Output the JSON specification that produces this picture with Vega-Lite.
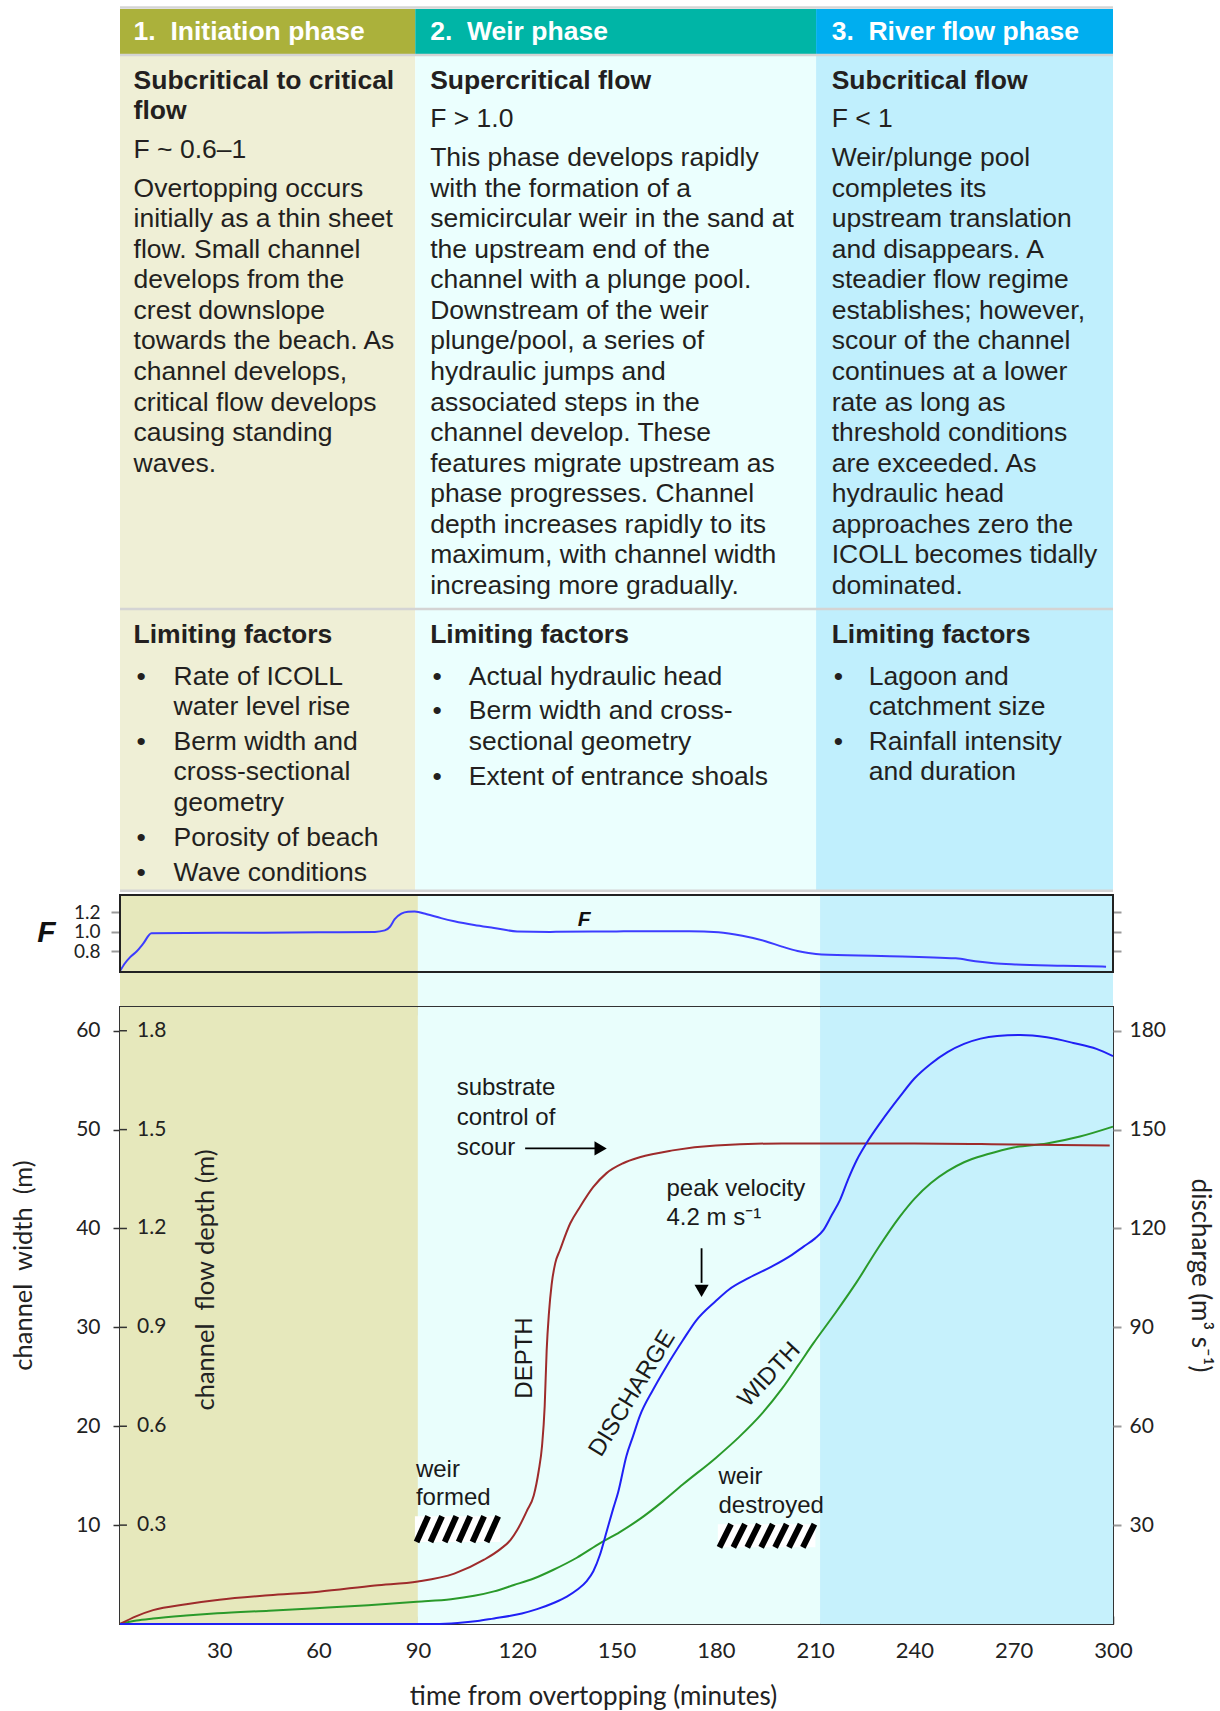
{
  "$schema": "https://vega.github.io/schema/vega-lite/v6.json",
  "padding": {"left": 10, "top": 6, "right": 5, "bottom": 5},
  "background": "white",
  "bounds": "flush",
  "spacing": 0,
  "config": {
    "view": {"stroke": null},
    "font": "Liberation Sans",
    "axis": {"grid": false, "domain": false, "zindex": 2, "labelColor": "#222222", "titleColor": "#222222", "labelFont": "Lato", "titleFont": "Lato", "titleFontWeight": "normal", "labelFlush": false, "labelOverlap": false}
  },
  "resolve": {"scale": {"x": "independent", "y": "independent", "color": "independent"}},
  "datasets": {
    "cells": [
      {"cell": "h1", "x0": 0, "x1": 89.2, "y0": 0, "y1": 1.506},
      {"cell": "h2", "x0": 89.2, "x1": 210.3, "y0": 0, "y1": 1.506},
      {"cell": "h3", "x0": 210.3, "x1": 300, "y0": 0, "y1": 1.506},
      {"cell": "b1", "x0": 0, "x1": 89.2, "y0": 1.506, "y1": 28.86},
      {"cell": "b2", "x0": 89.2, "x1": 210.3, "y0": 1.506, "y1": 28.86},
      {"cell": "b3", "x0": 210.3, "x1": 300, "y0": 1.506, "y1": 28.86}
    ],
    "seps": [{"y": -0.05}, {"y": 1.506}, {"y": 19.64}, {"y": 28.86}],
    "bands": [
      {"phase": "p1", "t0": 0, "t1": 90},
      {"phase": "p2", "t0": 90, "t1": 211.5},
      {"phase": "p3", "t0": 211.5, "t1": 300}
    ],
    "tabletext": [
      {"kind": "head", "x": 4.1, "line": 0.753, "text": "1.\u00a0 Initiation phase"},
      {"kind": "head", "x": 93.7, "line": 0.753, "text": "2.\u00a0 Weir phase"},
      {"kind": "head", "x": 215.0, "line": 0.753, "text": "3.\u00a0 River flow phase"},
      {"kind": "bold", "x": 4.1, "line": 2.35, "text": "Subcritical to critical"},
      {"kind": "bold", "x": 4.1, "line": 3.35, "text": "flow"},
      {"kind": "bold", "x": 93.7, "line": 2.35, "text": "Supercritical flow"},
      {"kind": "bold", "x": 215.0, "line": 2.35, "text": "Subcritical flow"},
      {"kind": "bold", "x": 4.1, "line": 20.49, "text": "Limiting factors"},
      {"kind": "bold", "x": 93.7, "line": 20.49, "text": "Limiting factors"},
      {"kind": "bold", "x": 215.0, "line": 20.49, "text": "Limiting factors"},
      {"kind": "body", "x": 4.1, "line": 4.63, "text": "F ~ 0.6–1"},
      {"kind": "body", "x": 4.1, "line": 5.88, "text": "Overtopping occurs"},
      {"kind": "body", "x": 4.1, "line": 6.88, "text": "initially as a thin sheet"},
      {"kind": "body", "x": 4.1, "line": 7.88, "text": "flow. Small channel"},
      {"kind": "body", "x": 4.1, "line": 8.88, "text": "develops from the"},
      {"kind": "body", "x": 4.1, "line": 9.88, "text": "crest downslope"},
      {"kind": "body", "x": 4.1, "line": 10.88, "text": "towards the beach. As"},
      {"kind": "body", "x": 4.1, "line": 11.88, "text": "channel develops,"},
      {"kind": "body", "x": 4.1, "line": 12.88, "text": "critical flow develops"},
      {"kind": "body", "x": 4.1, "line": 13.88, "text": "causing standing"},
      {"kind": "body", "x": 4.1, "line": 14.88, "text": "waves."},
      {"kind": "body", "x": 93.7, "line": 3.6, "text": "F > 1.0"},
      {"kind": "body", "x": 93.7, "line": 4.88, "text": "This phase develops rapidly"},
      {"kind": "body", "x": 93.7, "line": 5.88, "text": "with the formation of a"},
      {"kind": "body", "x": 93.7, "line": 6.88, "text": "semicircular weir in the sand at"},
      {"kind": "body", "x": 93.7, "line": 7.88, "text": "the upstream end of the"},
      {"kind": "body", "x": 93.7, "line": 8.88, "text": "channel with a plunge pool."},
      {"kind": "body", "x": 93.7, "line": 9.88, "text": "Downstream of the weir"},
      {"kind": "body", "x": 93.7, "line": 10.88, "text": "plunge/pool, a series of"},
      {"kind": "body", "x": 93.7, "line": 11.88, "text": "hydraulic jumps and"},
      {"kind": "body", "x": 93.7, "line": 12.88, "text": "associated steps in the"},
      {"kind": "body", "x": 93.7, "line": 13.88, "text": "channel develop. These"},
      {"kind": "body", "x": 93.7, "line": 14.88, "text": "features migrate upstream as"},
      {"kind": "body", "x": 93.7, "line": 15.88, "text": "phase progresses. Channel"},
      {"kind": "body", "x": 93.7, "line": 16.88, "text": "depth increases rapidly to its"},
      {"kind": "body", "x": 93.7, "line": 17.88, "text": "maximum, with channel width"},
      {"kind": "body", "x": 93.7, "line": 18.88, "text": "increasing more gradually."},
      {"kind": "body", "x": 215.0, "line": 3.6, "text": "F < 1"},
      {"kind": "body", "x": 215.0, "line": 4.88, "text": "Weir/plunge pool"},
      {"kind": "body", "x": 215.0, "line": 5.88, "text": "completes its"},
      {"kind": "body", "x": 215.0, "line": 6.88, "text": "upstream translation"},
      {"kind": "body", "x": 215.0, "line": 7.88, "text": "and disappears. A"},
      {"kind": "body", "x": 215.0, "line": 8.88, "text": "steadier flow regime"},
      {"kind": "body", "x": 215.0, "line": 9.88, "text": "establishes; however,"},
      {"kind": "body", "x": 215.0, "line": 10.88, "text": "scour of the channel"},
      {"kind": "body", "x": 215.0, "line": 11.88, "text": "continues at a lower"},
      {"kind": "body", "x": 215.0, "line": 12.88, "text": "rate as long as"},
      {"kind": "body", "x": 215.0, "line": 13.88, "text": "threshold conditions"},
      {"kind": "body", "x": 215.0, "line": 14.88, "text": "are exceeded. As"},
      {"kind": "body", "x": 215.0, "line": 15.88, "text": "hydraulic head"},
      {"kind": "body", "x": 215.0, "line": 16.88, "text": "approaches zero the"},
      {"kind": "body", "x": 215.0, "line": 17.88, "text": "ICOLL becomes tidally"},
      {"kind": "body", "x": 215.0, "line": 18.88, "text": "dominated."},
      {"kind": "body", "x": 5.0, "line": 21.85, "text": "•"},
      {"kind": "body", "x": 5.0, "line": 23.99, "text": "•"},
      {"kind": "body", "x": 5.0, "line": 27.14, "text": "•"},
      {"kind": "body", "x": 5.0, "line": 28.28, "text": "•"},
      {"kind": "body", "x": 16.2, "line": 21.85, "text": "Rate of ICOLL"},
      {"kind": "body", "x": 16.2, "line": 22.85, "text": "water level rise"},
      {"kind": "body", "x": 16.2, "line": 23.99, "text": "Berm width and"},
      {"kind": "body", "x": 16.2, "line": 24.99, "text": "cross-sectional"},
      {"kind": "body", "x": 16.2, "line": 25.99, "text": "geometry"},
      {"kind": "body", "x": 16.2, "line": 27.14, "text": "Porosity of beach"},
      {"kind": "body", "x": 16.2, "line": 28.28, "text": "Wave conditions"},
      {"kind": "body", "x": 94.4, "line": 21.85, "text": "•"},
      {"kind": "body", "x": 94.4, "line": 22.99, "text": "•"},
      {"kind": "body", "x": 94.4, "line": 25.14, "text": "•"},
      {"kind": "body", "x": 105.4, "line": 21.85, "text": "Actual hydraulic head"},
      {"kind": "body", "x": 105.4, "line": 22.99, "text": "Berm width and cross-"},
      {"kind": "body", "x": 105.4, "line": 23.99, "text": "sectional geometry"},
      {"kind": "body", "x": 105.4, "line": 25.14, "text": "Extent of entrance shoals"},
      {"kind": "body", "x": 215.6, "line": 21.85, "text": "•"},
      {"kind": "body", "x": 215.6, "line": 23.99, "text": "•"},
      {"kind": "body", "x": 226.2, "line": 21.85, "text": "Lagoon and"},
      {"kind": "body", "x": 226.2, "line": 22.85, "text": "catchment size"},
      {"kind": "body", "x": 226.2, "line": 23.99, "text": "Rainfall intensity"},
      {"kind": "body", "x": 226.2, "line": 24.99, "text": "and duration"}
    ],
    "fvals": [
      {"t": 0, "f": 0.6}, {"t": 1.5, "f": 0.68}, {"t": 3, "f": 0.74}, {"t": 5, "f": 0.8}, {"t": 7, "f": 0.88},
      {"t": 9.5, "f": 0.985}, {"t": 30, "f": 0.99}, {"t": 60, "f": 0.995}, {"t": 77, "f": 1.0}, {"t": 80, "f": 1.015},
      {"t": 81.5, "f": 1.05}, {"t": 83, "f": 1.13}, {"t": 85, "f": 1.185}, {"t": 87, "f": 1.205}, {"t": 89, "f": 1.208},
      {"t": 92.7, "f": 1.18}, {"t": 97, "f": 1.14}, {"t": 101, "f": 1.108}, {"t": 107, "f": 1.07}, {"t": 113, "f": 1.04},
      {"t": 120, "f": 1.005}, {"t": 130, "f": 1.0}, {"t": 150, "f": 1.005}, {"t": 165, "f": 1.007}, {"t": 172, "f": 1.007},
      {"t": 180.8, "f": 0.996}, {"t": 188, "f": 0.96}, {"t": 195, "f": 0.905}, {"t": 200, "f": 0.85}, {"t": 204.7, "f": 0.805},
      {"t": 208, "f": 0.785}, {"t": 212, "f": 0.77}, {"t": 230, "f": 0.755}, {"t": 252.5, "f": 0.73}, {"t": 258.4, "f": 0.7},
      {"t": 264, "f": 0.68}, {"t": 270.4, "f": 0.668}, {"t": 285, "f": 0.655}, {"t": 297.9, "f": 0.645}
    ],
    "depth": [
      {"t": 0, "d": 0}, {"t": 5, "d": 0.024}, {"t": 10, "d": 0.042}, {"t": 20, "d": 0.06}, {"t": 30, "d": 0.0735},
      {"t": 45, "d": 0.087}, {"t": 60, "d": 0.098}, {"t": 77, "d": 0.117}, {"t": 90, "d": 0.129}, {"t": 101, "d": 0.153},
      {"t": 110, "d": 0.195}, {"t": 115, "d": 0.228}, {"t": 118, "d": 0.255}, {"t": 120, "d": 0.285}, {"t": 123, "d": 0.345},
      {"t": 125, "d": 0.39}, {"t": 126.5, "d": 0.465}, {"t": 127.5, "d": 0.54}, {"t": 128.3, "d": 0.66}, {"t": 128.9, "d": 0.83},
      {"t": 129.6, "d": 0.945}, {"t": 130.4, "d": 1.03}, {"t": 131.5, "d": 1.095}, {"t": 132.9, "d": 1.134}, {"t": 136, "d": 1.215},
      {"t": 139, "d": 1.266}, {"t": 143, "d": 1.326}, {"t": 147, "d": 1.368}, {"t": 152, "d": 1.398}, {"t": 157, "d": 1.416},
      {"t": 167, "d": 1.437}, {"t": 180, "d": 1.452}, {"t": 200, "d": 1.458}, {"t": 240, "d": 1.458}, {"t": 270, "d": 1.455},
      {"t": 299, "d": 1.452}
    ],
    "depthticks": [{"d": 0.3}, {"d": 0.6}, {"d": 0.9}, {"d": 1.2}, {"d": 1.5}, {"d": 1.8}],
    "discharge": [
      {"t": 0, "q": 0}, {"t": 60, "q": 0}, {"t": 95, "q": 0}, {"t": 102, "q": 0.3}, {"t": 108, "q": 0.9},
      {"t": 113, "q": 1.7}, {"t": 118, "q": 2.5}, {"t": 121.4, "q": 3.2}, {"t": 126, "q": 4.5}, {"t": 130.8, "q": 6.3},
      {"t": 135, "q": 8.3}, {"t": 138, "q": 10.3}, {"t": 141, "q": 13}, {"t": 143, "q": 16}, {"t": 145, "q": 21},
      {"t": 147, "q": 28}, {"t": 149, "q": 35}, {"t": 150.5, "q": 40}, {"t": 153, "q": 51}, {"t": 155, "q": 57},
      {"t": 157, "q": 63}, {"t": 161, "q": 71}, {"t": 165, "q": 78}, {"t": 170, "q": 86}, {"t": 174, "q": 92},
      {"t": 180, "q": 98}, {"t": 184, "q": 101.5}, {"t": 190, "q": 105}, {"t": 197, "q": 108.5}, {"t": 203, "q": 112},
      {"t": 206.5, "q": 114.5}, {"t": 210, "q": 117}, {"t": 212.5, "q": 119.5}, {"t": 215, "q": 124}, {"t": 217.5, "q": 128.6},
      {"t": 220, "q": 135}, {"t": 222.6, "q": 140.8}, {"t": 225.6, "q": 146}, {"t": 230, "q": 152.5}, {"t": 235.6, "q": 160},
      {"t": 240, "q": 165.5}, {"t": 245, "q": 170}, {"t": 250, "q": 173.5}, {"t": 255, "q": 176}, {"t": 260, "q": 177.6},
      {"t": 265, "q": 178.4}, {"t": 272, "q": 178.7}, {"t": 280, "q": 178}, {"t": 288, "q": 176.3}, {"t": 295, "q": 174.5},
      {"t": 300, "q": 172.3}
    ],
    "width": [
      {"t": 0, "w": 0}, {"t": 5, "w": 0.35}, {"t": 10, "w": 0.55}, {"t": 20, "w": 0.85}, {"t": 29.4, "w": 1.08},
      {"t": 45, "w": 1.35}, {"t": 59.2, "w": 1.6}, {"t": 75, "w": 1.9}, {"t": 89.7, "w": 2.25}, {"t": 100, "w": 2.5},
      {"t": 107, "w": 2.85}, {"t": 113, "w": 3.3}, {"t": 119, "w": 3.94}, {"t": 125, "w": 4.6}, {"t": 130.8, "w": 5.46},
      {"t": 138, "w": 6.7}, {"t": 145.2, "w": 8.2}, {"t": 151, "w": 9.3}, {"t": 157, "w": 10.6}, {"t": 164, "w": 12.4},
      {"t": 170, "w": 14.1}, {"t": 180, "w": 16.8}, {"t": 187, "w": 18.9}, {"t": 194, "w": 21.3}, {"t": 200, "w": 23.8},
      {"t": 205, "w": 26.2}, {"t": 209.5, "w": 28.4}, {"t": 216, "w": 31.4}, {"t": 222.6, "w": 34.6}, {"t": 229, "w": 38},
      {"t": 235.6, "w": 41.2}, {"t": 240, "w": 43.0}, {"t": 245, "w": 44.6}, {"t": 250, "w": 45.8}, {"t": 255, "w": 46.7},
      {"t": 262, "w": 47.5}, {"t": 270, "w": 48.2}, {"t": 280, "w": 48.6}, {"t": 290, "w": 49.3}, {"t": 300, "w": 50.3}
    ],
    "hatchbox": [
      {"t0": 89.1, "t1": 114.8, "w0": 8.3, "w1": 10.9},
      {"t0": 180.6, "t1": 210.1, "w0": 7.75, "w1": 10.1}
    ],
    "stripes": [
      {"t0": 89.6, "t1": 93.1, "w0": 8.3, "w1": 10.9},
      {"t0": 93.8, "t1": 97.3, "w0": 8.3, "w1": 10.9},
      {"t0": 98.1, "t1": 101.6, "w0": 8.3, "w1": 10.9},
      {"t0": 102.3, "t1": 105.8, "w0": 8.3, "w1": 10.9},
      {"t0": 106.5, "t1": 110.0, "w0": 8.3, "w1": 10.9},
      {"t0": 110.75, "t1": 114.25, "w0": 8.3, "w1": 10.9},
      {"t0": 181.1, "t1": 184.6, "w0": 7.75, "w1": 10.1},
      {"t0": 185.3, "t1": 188.8, "w0": 7.75, "w1": 10.1},
      {"t0": 189.5, "t1": 193.0, "w0": 7.75, "w1": 10.1},
      {"t0": 193.7, "t1": 197.2, "w0": 7.75, "w1": 10.1},
      {"t0": 197.9, "t1": 201.4, "w0": 7.75, "w1": 10.1},
      {"t0": 202.1, "t1": 205.6, "w0": 7.75, "w1": 10.1},
      {"t0": 206.3, "t1": 209.8, "w0": 7.75, "w1": 10.1}
    ],
    "notes": [
      {"t": 101.7, "w": 54.2, "label": "substrate"},
      {"t": 101.7, "w": 51.2, "label": "control of"},
      {"t": 101.7, "w": 48.1, "label": "scour"},
      {"t": 165.1, "w": 44.0, "label": "peak velocity"},
      {"t": 165.1, "w": 41.1, "label": "4.2 m s⁻¹"},
      {"t": 89.4, "w": 15.6, "label": "weir"},
      {"t": 89.4, "w": 12.7, "label": "formed"},
      {"t": 180.8, "w": 14.9, "label": "weir"},
      {"t": 180.8, "w": 11.9, "label": "destroyed"}
    ],
    "arrows": [
      {"t0": 122.4, "t1": 143.5, "w0": 48.1, "w1": 48.1},
      {"t0": 175.7, "t1": 175.7, "w0": 38.0, "w1": 34.5}
    ]
  },
  "vconcat": [
    {
      "width": 993,
      "height": 886,
      "layer": [
        {
          "data": {"name": "cells"},
          "mark": {"type": "rect"},
          "encoding": {
            "x": {"field": "x0", "type": "quantitative", "scale": {"domain": [0, 300], "nice": false, "zero": false}, "axis": null},
            "x2": {"field": "x1"},
            "y": {"field": "y0", "type": "quantitative", "scale": {"domain": [0, 29], "nice": false, "zero": false, "reverse": true}, "axis": null},
            "y2": {"field": "y1"},
            "color": {"field": "cell", "type": "nominal", "scale": {"domain": ["h1", "h2", "h3", "b1", "b2", "b3"], "range": ["#abb13b", "#00b5a6", "#00aeef", "#efefd6", "#ebfffe", "#c0effd"]}, "legend": null}
          }
        },
        {
          "data": {"name": "seps"},
          "mark": {"type": "rule", "color": "#d4d4d4", "strokeWidth": 2.5},
          "encoding": {
            "y": {"field": "y", "type": "quantitative", "scale": {"domain": [0, 29], "nice": false, "zero": false, "reverse": true}, "axis": null}
          }
        },
        {
          "data": {"name": "tabletext"},
          "transform": [{"filter": "datum.kind === 'head'"}],
          "mark": {"type": "text", "align": "left", "baseline": "middle", "font": "Liberation Sans", "fontSize": 26.5, "fontWeight": "bold", "color": "#ffffff"},
          "encoding": {
            "x": {"field": "x", "type": "quantitative", "scale": {"domain": [0, 300], "nice": false, "zero": false}, "axis": null},
            "y": {"field": "line", "type": "quantitative", "scale": {"domain": [0, 29], "nice": false, "zero": false, "reverse": true}, "axis": null},
            "text": {"field": "text"}
          }
        },
        {
          "data": {"name": "tabletext"},
          "transform": [{"filter": "datum.kind === 'bold'"}],
          "mark": {"type": "text", "align": "left", "baseline": "middle", "font": "Liberation Sans", "fontSize": 26.5, "fontWeight": "bold", "color": "#231f20"},
          "encoding": {
            "x": {"field": "x", "type": "quantitative", "scale": {"domain": [0, 300], "nice": false, "zero": false}, "axis": null},
            "y": {"field": "line", "type": "quantitative", "scale": {"domain": [0, 29], "nice": false, "zero": false, "reverse": true}, "axis": null},
            "text": {"field": "text"}
          }
        },
        {
          "data": {"name": "tabletext"},
          "transform": [{"filter": "datum.kind === 'body'"}],
          "mark": {"type": "text", "align": "left", "baseline": "middle", "font": "Liberation Sans", "fontSize": 26.5, "color": "#231f20"},
          "encoding": {
            "x": {"field": "x", "type": "quantitative", "scale": {"domain": [0, 300], "nice": false, "zero": false}, "axis": null},
            "y": {"field": "line", "type": "quantitative", "scale": {"domain": [0, 29], "nice": false, "zero": false, "reverse": true}, "axis": null},
            "text": {"field": "text"}
          }
        }
      ]
    },
    {
      "width": 993,
      "height": 112,
      "layer": [
        {
          "data": {"name": "bands"},
          "mark": {"type": "rect"},
          "encoding": {
            "x": {"field": "t0", "type": "quantitative", "scale": {"domain": [0, 300], "nice": false, "zero": false}, "axis": null},
            "x2": {"field": "t1"},
            "color": {"field": "phase", "type": "nominal", "scale": {"domain": ["p1", "p2", "p3"], "range": ["#e6e8bc", "#e9fefc", "#c6f1fc"]}, "legend": null}
          }
        },
        {
          "data": {"name": "fvals"},
          "mark": {"type": "line", "color": "#3c3cff", "strokeWidth": 2, "interpolate": "monotone"},
          "encoding": {
            "x": {"field": "t", "type": "quantitative", "scale": {"domain": [0, 300], "nice": false, "zero": false}, "axis": null},
            "y": {"field": "f", "type": "quantitative", "scale": {"domain": [0.234, 1.376], "nice": false, "zero": false},
                  "axis": {"orient": "right", "values": [0.8, 1.0, 1.2], "tickSize": 8, "tickColor": "#999999", "tickWidth": 2, "labels": false, "title": null}}
          }
        },
        {
          "data": {"values": [{"x0": 0, "x1": 300, "y0": 0.591, "y1": 1.376}]},
          "mark": {"type": "rect", "filled": false, "color": "#222222", "strokeWidth": 2},
          "encoding": {
            "x": {"field": "x0", "type": "quantitative", "scale": {"domain": [0, 300], "nice": false, "zero": false},
                  "axis": {"orient": "bottom", "offset": -35, "values": [30, 60, 90, 120, 150, 180, 210, 240, 270], "tickSize": -9, "tickColor": "#333333", "tickWidth": 1.5, "labels": false, "title": null}},
            "x2": {"field": "x1"},
            "y": {"field": "y0", "type": "quantitative", "scale": {"domain": [0.234, 1.376], "nice": false, "zero": false},
                  "axis": {"orient": "left", "values": [0.8, 1.0, 1.2], "format": ".1f", "tickSize": 9, "tickColor": "#999999", "tickWidth": 2, "labelPadding": 11, "labelFontSize": 19, "labelBaseline": "middle",
                           "title": "F", "titleFont": "Liberation Sans", "titleFontStyle": "italic", "titleFontWeight": "bold", "titleFontSize": 30, "titleAngle": 0, "titleX": -74, "titleY": 37.5, "titleBaseline": "middle", "titleAlign": "center", "titleColor": "#111111"}},
            "y2": {"field": "y1"}
          }
        },
        {
          "data": {"values": [{"t": 140.2, "f": 1.121, "label": "F"}]},
          "mark": {"type": "text", "font": "Liberation Sans", "fontStyle": "italic", "fontWeight": "bold", "fontSize": 21, "color": "#111111", "align": "center", "baseline": "middle"},
          "encoding": {
            "x": {"field": "t", "type": "quantitative", "scale": {"domain": [0, 300], "nice": false, "zero": false}, "axis": null},
            "y": {"field": "f", "type": "quantitative", "scale": {"domain": [0.234, 1.376], "nice": false, "zero": false}, "axis": null},
            "text": {"field": "label"}
          }
        }
      ],
      "resolve": {"axis": {"y": "independent"}}
    },
    {
      "width": 993,
      "height": 617,
      "view": {"stroke": "#333333", "strokeWidth": 2},
      "layer": [
        {
          "data": {"name": "bands"},
          "mark": {"type": "rect"},
          "encoding": {
            "x": {"field": "t0", "type": "quantitative", "scale": {"domain": [0, 300], "nice": false, "zero": false},
                  "axis": {"orient": "bottom", "values": [30, 60, 90, 120, 150, 180, 210, 240, 270, 300], "tickSize": -8, "tickColor": "#333333", "tickWidth": 1.5, "labelPadding": 24.5, "labelFontSize": 22,
                           "title": "time from overtopping (minutes)", "titleFontSize": 26, "titleX": 473, "titleY": 72, "titleBaseline": "middle", "titleAlign": "center"}},
            "x2": {"field": "t1"},
            "color": {"field": "phase", "type": "nominal", "scale": {"domain": ["p1", "p2", "p3"], "range": ["#e6e8bc", "#e9fefc", "#c6f1fc"]}, "legend": null}
          }
        },
        {
          "data": {"name": "width"},
          "mark": {"type": "line", "color": "#2a9a2a", "strokeWidth": 2, "interpolate": "monotone"},
          "encoding": {
            "x": {"field": "t", "type": "quantitative", "scale": {"domain": [0, 300], "nice": false, "zero": false},
                  "axis": {"orient": "top", "values": [30, 60, 90, 120, 150, 180, 210, 240, 270], "tickSize": -8, "tickColor": "#333333", "tickWidth": 1.5, "labels": false, "title": null}},
            "y": {"field": "w", "type": "quantitative", "scale": {"domain": [0, 62.4], "nice": false, "zero": false},
                  "axis": {"orient": "left", "values": [10, 20, 30, 40, 50, 60], "tickSize": 7, "tickColor": "#333333", "tickWidth": 1.5, "labelPadding": 13, "labelFontSize": 21,
                           "title": "channel\u00a0 width\u00a0 (m)", "titleFontSize": 25.5, "titleAngle": 270, "titleX": -97, "titleY": 258, "titleBaseline": "middle", "titleAlign": "center"}}
          }
        },
        {
          "data": {"name": "depth"},
          "mark": {"type": "line", "color": "#9e2b2b", "strokeWidth": 2, "interpolate": "monotone"},
          "encoding": {
            "x": {"field": "t", "type": "quantitative", "scale": {"domain": [0, 300], "nice": false, "zero": false}, "axis": null},
            "y": {"field": "d", "type": "quantitative", "scale": {"domain": [0, 1.872], "nice": false, "zero": false}, "axis": null}
          }
        },
        {
          "data": {"name": "depthticks"},
          "mark": {"type": "rule", "color": "#333333", "strokeWidth": 1.5},
          "encoding": {
            "x": {"datum": 0, "type": "quantitative", "scale": {"domain": [0, 300], "nice": false, "zero": false}, "axis": null},
            "x2": {"datum": 2.1},
            "y": {"field": "d", "type": "quantitative", "scale": {"domain": [0, 1.872], "nice": false, "zero": false}, "axis": null}
          }
        },
        {
          "data": {"name": "depthticks"},
          "mark": {"type": "text", "align": "left", "baseline": "middle", "dx": 17, "font": "Lato", "fontSize": 21, "color": "#222222"},
          "encoding": {
            "x": {"datum": 0, "type": "quantitative", "scale": {"domain": [0, 300], "nice": false, "zero": false}, "axis": null},
            "y": {"field": "d", "type": "quantitative", "scale": {"domain": [0, 1.872], "nice": false, "zero": false}, "axis": null},
            "text": {"field": "d", "type": "quantitative", "format": ".1f"}
          }
        },
        {
          "data": {"values": [{"d": 1.044, "label": "channel\u00a0 flow depth (m)"}]},
          "mark": {"type": "text", "align": "center", "baseline": "middle", "angle": 270, "dx": 0, "dy": 86, "font": "Lato", "fontSize": 25.5, "color": "#222222"},
          "encoding": {
            "x": {"datum": 0, "type": "quantitative", "scale": {"domain": [0, 300], "nice": false, "zero": false}, "axis": null},
            "y": {"field": "d", "type": "quantitative", "scale": {"domain": [0, 1.872], "nice": false, "zero": false}, "axis": null},
            "text": {"field": "label"}
          }
        },
        {
          "data": {"name": "discharge"},
          "mark": {"type": "line", "color": "#2020f5", "strokeWidth": 2, "interpolate": "monotone"},
          "encoding": {
            "x": {"field": "t", "type": "quantitative", "scale": {"domain": [0, 300], "nice": false, "zero": false}, "axis": null},
            "y": {"field": "q", "type": "quantitative", "scale": {"domain": [0, 187.2], "nice": false, "zero": false},
                  "axis": {"orient": "right", "values": [30, 60, 90, 120, 150, 180], "tickSize": 8, "tickColor": "#999999", "tickWidth": 2, "labelPadding": 8, "labelFontSize": 21,
                           "title": "discharge (m³ s⁻¹)", "titleFontSize": 26, "titleAngle": 90, "titleX": 86, "titleY": 268, "titleBaseline": "middle", "titleAlign": "center"}}
          }
        },
        {
          "data": {"name": "hatchbox"},
          "mark": {"type": "rect", "color": "#ffffff"},
          "encoding": {
            "x": {"field": "t0", "type": "quantitative", "scale": {"domain": [0, 300], "nice": false, "zero": false}, "axis": null},
            "x2": {"field": "t1"},
            "y": {"field": "w0", "type": "quantitative", "scale": {"domain": [0, 62.4], "nice": false, "zero": false}, "axis": null},
            "y2": {"field": "w1"}
          }
        },
        {
          "data": {"name": "stripes"},
          "mark": {"type": "rule", "color": "#000000", "strokeWidth": 6},
          "encoding": {
            "x": {"field": "t0", "type": "quantitative", "scale": {"domain": [0, 300], "nice": false, "zero": false}, "axis": null},
            "x2": {"field": "t1"},
            "y": {"field": "w0", "type": "quantitative", "scale": {"domain": [0, 62.4], "nice": false, "zero": false}, "axis": null},
            "y2": {"field": "w1"}
          }
        },
        {
          "data": {"name": "notes"},
          "mark": {"type": "text", "align": "left", "baseline": "middle", "font": "Liberation Sans", "fontSize": 24, "color": "#1a1a1a"},
          "encoding": {
            "x": {"field": "t", "type": "quantitative", "scale": {"domain": [0, 300], "nice": false, "zero": false}, "axis": null},
            "y": {"field": "w", "type": "quantitative", "scale": {"domain": [0, 62.4], "nice": false, "zero": false}, "axis": null},
            "text": {"field": "label"}
          }
        },
        {
          "data": {"name": "arrows"},
          "mark": {"type": "rule", "color": "#000000", "strokeWidth": 1.8},
          "encoding": {
            "x": {"field": "t0", "type": "quantitative", "scale": {"domain": [0, 300], "nice": false, "zero": false}, "axis": null},
            "x2": {"field": "t1"},
            "y": {"field": "w0", "type": "quantitative", "scale": {"domain": [0, 62.4], "nice": false, "zero": false}, "axis": null},
            "y2": {"field": "w1"}
          }
        },
        {
          "data": {"values": [{"t": 145.2, "w": 48.1}]},
          "mark": {"type": "point", "shape": "triangle-right", "filled": true, "color": "#000000", "size": 200, "opacity": 1},
          "encoding": {
            "x": {"field": "t", "type": "quantitative", "scale": {"domain": [0, 300], "nice": false, "zero": false}, "axis": null},
            "y": {"field": "w", "type": "quantitative", "scale": {"domain": [0, 62.4], "nice": false, "zero": false}, "axis": null}
          }
        },
        {
          "data": {"values": [{"t": 175.7, "w": 33.7}]},
          "mark": {"type": "point", "shape": "triangle-down", "filled": true, "color": "#000000", "size": 200, "opacity": 1},
          "encoding": {
            "x": {"field": "t", "type": "quantitative", "scale": {"domain": [0, 300], "nice": false, "zero": false}, "axis": null},
            "y": {"field": "w", "type": "quantitative", "scale": {"domain": [0, 62.4], "nice": false, "zero": false}, "axis": null}
          }
        },
        {
          "data": {"values": [{"t": 122.4, "w": 26.9, "label": "DEPTH"}]},
          "mark": {"type": "text", "angle": 270, "align": "center", "baseline": "middle", "font": "Liberation Sans", "fontSize": 24, "color": "#1a1a1a"},
          "encoding": {
            "x": {"field": "t", "type": "quantitative", "scale": {"domain": [0, 300], "nice": false, "zero": false}, "axis": null},
            "y": {"field": "w", "type": "quantitative", "scale": {"domain": [0, 62.4], "nice": false, "zero": false}, "axis": null},
            "text": {"field": "label"}
          }
        },
        {
          "data": {"values": [{"t": 154.8, "w": 23.3, "label": "DISCHARGE"}]},
          "mark": {"type": "text", "angle": 301.5, "align": "center", "baseline": "middle", "font": "Liberation Sans", "fontSize": 24, "color": "#1a1a1a"},
          "encoding": {
            "x": {"field": "t", "type": "quantitative", "scale": {"domain": [0, 300], "nice": false, "zero": false}, "axis": null},
            "y": {"field": "w", "type": "quantitative", "scale": {"domain": [0, 62.4], "nice": false, "zero": false}, "axis": null},
            "text": {"field": "label"}
          }
        },
        {
          "data": {"values": [{"t": 196.2, "w": 25.2, "label": "WIDTH"}]},
          "mark": {"type": "text", "angle": 313, "align": "center", "baseline": "middle", "font": "Liberation Sans", "fontSize": 24, "color": "#1a1a1a"},
          "encoding": {
            "x": {"field": "t", "type": "quantitative", "scale": {"domain": [0, 300], "nice": false, "zero": false}, "axis": null},
            "y": {"field": "w", "type": "quantitative", "scale": {"domain": [0, 62.4], "nice": false, "zero": false}, "axis": null},
            "text": {"field": "label"}
          }
        }
      ],
      "resolve": {"scale": {"y": "independent"}, "axis": {"x": "independent"}}
    }
  ]
}
